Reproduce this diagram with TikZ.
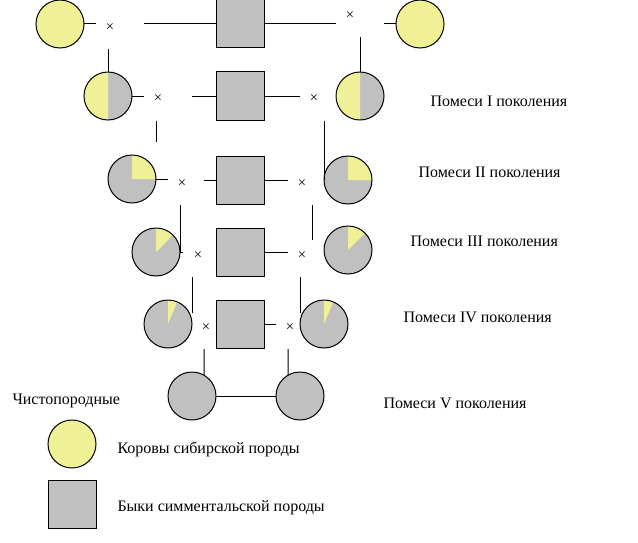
\documentclass[tikz,border=0pt]{standalone}
\usepackage{fontspec}
\setmainfont{Liberation Serif}
\definecolor{cowyellow}{RGB}{240,240,150}
\definecolor{bullgray}{RGB}{192,192,192}

\begin{document}
\begin{tikzpicture}[x=0.75pt,y=-0.75pt,line width=0.75pt,
                every node/.style={font=\fontsize{12}{14}\selectfont},
                cow/.style={circle,draw,fill=cowyellow,minimum size=36pt,inner sep=0pt,outer sep=0pt},
                mix/.style={cow,fill=bullgray},
                share/.style 2 args={mix,path picture={\fill[cowyellow](path picture bounding box.center)--++(#1:18pt)arc[start angle=#1,end angle=#2,radius=18pt]--cycle;}},
                bull/.style={draw,fill=bullgray,minimum size=36pt,inner sep=0pt,outer sep=0pt},
                cross/.style={inner sep=0pt,font=\fontsize{11}{11}\selectfont},
                gen/.style={anchor=west,inner sep=0pt}]
                \useasboundingbox(0,0)rectangle(638,542);
                \node[cow](L0)at(60,24){};
                \node[bull](B0)at(240,24){};
                \node[cow](R0)at(420,24){};
                \node[cross](X0l)at(110,28){×};
                \node[cross](X0r)at(350,16){×};
                \node[share={90}{270}](M1l)at(108,96){};
                \node[bull](B1)at(240,96){};
                \node[share={90}{270}](M1r)at(360,96){};
                \node[cross](X1l)at(158,99){×};
                \node[cross](X1r)at(314,99){×};
                \node[share={90}{0}](M2l)at(132,179){};
                \node[bull](B2)at(240,180){};
                \node[share={90}{0}](M2r)at(348,180){};
                \node[cross](X2l)at(182,184){×};
                \node[cross](X2r)at(302,184){×};
                \node[share={90}{45}](M3l)at(156,252){};
                \node[bull](B3)at(240,252){};
                \node[share={90}{45}](M3r)at(348,250){};
                \node[cross](X3l)at(198,256){×};
                \node[cross](X3r)at(302,256){×};
                \node[share={90}{67.5}](M4l)at(168,324){};
                \node[bull](B4)at(240,324){};
                \node[share={90}{67.5}](M4r)at(324,324){};
                \node[cross](X4l)at(206,328){×};
                \node[cross](X4r)at(290,328){×};
                \node[mix](P5l)at(192,396){};
                \node[mix](P5r)at(300,396){};
                \node[gen](G1)at(430,101){Помеси I поколения};
                \node[gen](G2)at(418,172){Помеси II поколения};
                \node[gen](G3)at(410,241){Помеси III поколения};
                \node[gen](G4)at(403,317){Помеси IV поколения};
                \node[gen](G5)at(383,403){Помеси V поколения};
                \node[gen](pure)at(12,401){Чистопородные};
                \node[cow](cowkey)at(72,444){};
                \node[gen](cowtxt)at(117,449){Коровы сибирской породы};
                \node[bull](bullkey)at(72,504){};
                \node[gen](bulltxt)at(117,508){Быки симментальской породы};
                \coordinate(a0)at(96,24);
                \coordinate(b0)at(144,24);
                \coordinate(c0)at(336,24);
                \coordinate(d0)at(384,24);
                \coordinate(e0)at(108,49);
                \coordinate(f0)at(360,37);
                \coordinate(a1)at(144,96);
                \coordinate(b1)at(192,96);
                \coordinate(c1)at(300,96);
                \coordinate(e1)at(156,121);
                \coordinate(g1)at(156,142);
                \coordinate(f1)at(324,121);
                \coordinate(a2)at(168,179);
                \coordinate(b2)at(204,180);
                \coordinate(c2)at(288,180);
                \coordinate(e2)at(180,205);
                \coordinate(f2)at(312,205);
                \coordinate(h2)at(312,240);
                \coordinate(a3)at(183,252);
                \coordinate(c3)at(288,252);
                \coordinate(e3)at(192,277);
                \coordinate(g3)at(192,313);
                \coordinate(f3)at(300,277);
                \coordinate(h3)at(300,313);
                \coordinate(c4)at(276,324);
                \coordinate(e4)at(204,349);
                \coordinate(f4)at(288,349);
                \draw(L0)--(a0);
                \draw(b0)--(B0)--(c0);
                \draw(d0)--(R0);
                \draw(e0)--(M1l);
                \draw(f0)--(M1r);
                \draw(M1l)--(a1);
                \draw(b1)--(B1)--(c1);
                \draw(e1)--(g1);
                \draw(f1)--(M2r.west);
                \draw(M2l)--(a2);
                \draw(b2)--(B2)--(c2);
                \draw(e2)--(M3l.east);
                \draw(f2)--(h2);
                \draw(M3l)--(a3);
                \draw(B3)--(c3);
                \draw(e3)--(g3);
                \draw(f3)--(h3);
                \draw(B4)--(c4);
                \draw(e4)--(P5l.60);
                \draw(f4)--(P5r.120);
                \draw(P5l)--(P5r);
            \end{tikzpicture}
\end{document}
